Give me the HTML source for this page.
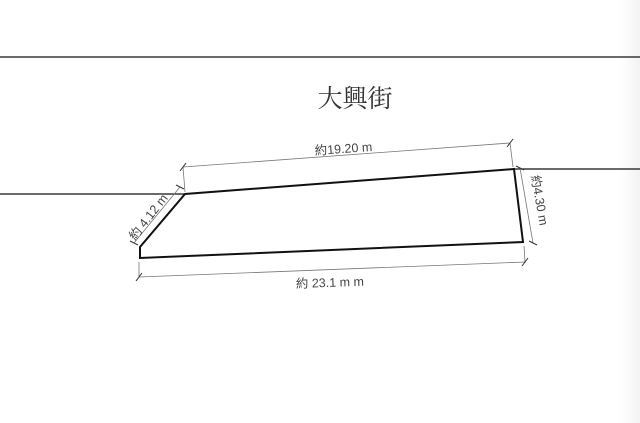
<!DOCTYPE html>
<html><head><meta charset="utf-8"><style>
html,body{margin:0;padding:0;background:#fff;}
svg{display:block}
text{font-family:"Liberation Sans","Noto Sans CJK TC",sans-serif;fill:#444;}
</style></head><body>
<svg width="640" height="423" viewBox="0 0 640 423">
<defs><linearGradient id="g" x1="0" x2="1"><stop offset="0" stop-color="#fff"/><stop offset="1" stop-color="#f3f3f3"/></linearGradient></defs>
<rect width="640" height="423" fill="#fff"/>
<rect x="620" y="0" width="20" height="423" fill="url(#g)"/>
<line x1="0" y1="57" x2="640" y2="57" stroke="#111" stroke-width="1.3"/>
<text x="355" y="107" font-size="25" text-anchor="middle" style="font-family:'Noto Serif CJK SC','Noto Sans CJK TC',serif;fill:#333">大興街</text>
<line x1="0" y1="194" x2="185" y2="194" stroke="#111" stroke-width="1.3"/>
<line x1="514" y1="169" x2="640" y2="169" stroke="#111" stroke-width="1.3"/>
<polygon points="140,258 140,247 185,194 514,169 523,242" fill="none" stroke="#111" stroke-width="2"/>
<g stroke="#777" stroke-width="0.8" fill="none">
<line x1="183" y1="167" x2="510" y2="143"/>
<line x1="183" y1="167" x2="185" y2="192"/>
<line x1="510" y1="143" x2="513" y2="167"/>
<line x1="139" y1="277" x2="526" y2="262"/>
<line x1="139" y1="262" x2="139" y2="277"/>
<line x1="524" y1="246" x2="525" y2="262"/>
<line x1="134" y1="243" x2="180" y2="187"/>
<line x1="520" y1="168" x2="533" y2="243"/>
</g>
<g stroke="#333" stroke-width="1">
<line x1="180" y1="171" x2="186" y2="163"/><line x1="507" y1="147" x2="513" y2="139"/>
<line x1="136" y1="281" x2="142" y2="273"/><line x1="522" y1="266" x2="528" y2="258"/>
<line x1="130" y1="241" x2="138" y2="245"/><line x1="176" y1="185" x2="184" y2="189"/>
<line x1="516" y1="166" x2="524" y2="170"/><line x1="529" y1="241" x2="537" y2="245"/>
</g>
<text font-size="12.5" transform="translate(315,155) rotate(-4)">約19.20 m</text>
<text font-size="12.5" transform="translate(296,288) rotate(-2)">約 23.1 m m</text>
<text font-size="12.5" transform="translate(135,241) rotate(-52)">約 4.12 m</text>
<text font-size="12.5" transform="translate(531,176) rotate(80)">約4.30 m</text>
</svg>
</body></html>
